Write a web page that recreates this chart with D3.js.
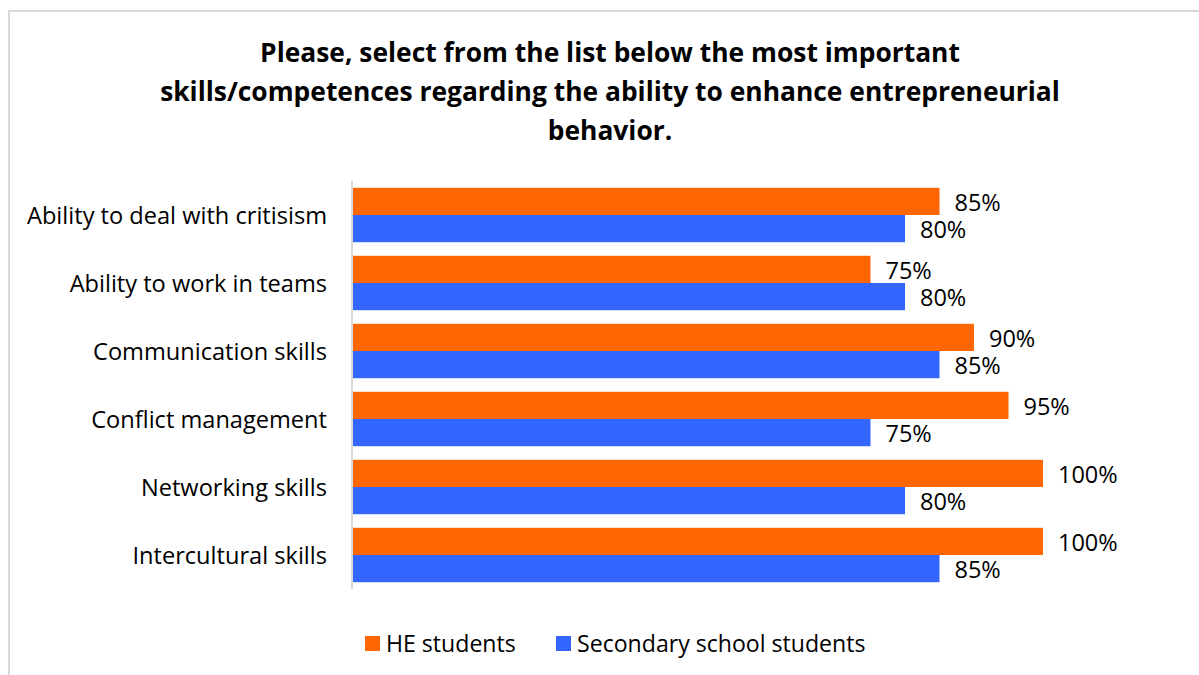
<!DOCTYPE html>
<html>
<head>
<meta charset="utf-8">
<script src="https://cdn.jsdelivr.net/npm/d3@7"></script>
<style>
  html, body { margin: 0; padding: 0; background: #ffffff; }
  svg { display: block; font-family: "Open Sans", "Noto Sans", sans-serif; }
</style>
</head>
<body>
<svg id="chart" width="1199" height="675"></svg>
<script>
// Survey answers: share of respondents picking each skill
const categories = [
  "Ability to deal with critisism",
  "Ability to work in teams",
  "Communication skills",
  "Conflict management",
  "Networking skills",
  "Intercultural skills"
];
const seriesNames = ["HE students", "Secondary school students"];
const heStudents = [85, 75, 90, 95, 100, 100];
const secondaryStudents = [80, 80, 85, 75, 80, 85];
const seriesColors = ["#ff6600", "#3366ff"];
const titleLines = [
  "Please, select from the list below the most important",
  "skills/competences regarding the ability to enhance entrepreneurial",
  "behavior."
];

const svg = d3.select("#chart");
const W = 1199, H = 675;

// outer frame (left and top edges show inside the view)
svg.append("rect")
  .attr("x", 9).attr("y", 11)
  .attr("width", W + 20).attr("height", H + 20)
  .attr("fill", "#ffffff")
  .attr("stroke", "#d9d9d9").attr("stroke-width", 2);

// title
svg.append("g").selectAll("text")
  .data(titleLines)
  .join("text")
  .attr("x", 610)
  .attr("y", (d, i) => 62 + i * 39)
  .attr("text-anchor", "middle")
  .attr("font-size", 26.4)
  .attr("font-weight", "bold")
  .attr("fill", "#000")
  .text(d => d);

const plot = { left: 353, top: 181, bottom: 589 };

const x = d3.scaleLinear().domain([0, 100]).range([plot.left, 1043]);
const y = d3.scaleBand().domain(categories).range([plot.top, plot.bottom]).paddingInner(0.2).paddingOuter(0.1);
const ySub = d3.scaleBand().domain(seriesNames).range([0, y.bandwidth()]);

const rows = categories.map((c, i) => ({
  cat: c,
  vals: [
    { s: seriesNames[0], v: heStudents[i] },
    { s: seriesNames[1], v: secondaryStudents[i] }
  ]
}));

const groups = svg.append("g").selectAll("g")
  .data(rows)
  .join("g")
  .attr("transform", d => `translate(0,${y(d.cat)})`);

groups.selectAll("rect")
  .data(d => d.vals)
  .join("rect")
  .attr("x", x(0))
  .attr("y", d => ySub(d.s))
  .attr("width", d => x(d.v) - x(0))
  .attr("height", ySub.bandwidth())
  .attr("fill", (d, i) => seriesColors[i]);

groups.selectAll("text")
  .data(d => d.vals)
  .join("text")
  .attr("x", d => x(d.v) + 15)
  .attr("y", d => ySub(d.s) + ySub.bandwidth() / 2)
  .attr("dy", "0.42em")
  .attr("font-size", 23.5)
  .attr("fill", "#000")
  .text(d => d.v + "%");

// category axis
const yAxis = svg.append("g")
  .attr("transform", `translate(${plot.left - 1},0)`)
  .call(d3.axisLeft(y).tickSize(0).tickPadding(25));
yAxis.select(".domain").attr("stroke", "#d9d9d9").attr("stroke-width", 2)
  .attr("d", `M0,${plot.top}V${plot.bottom}`);
yAxis.selectAll("text")
  .attr("font-size", 23.6)
  .attr("dy", "0.38em")
  .attr("font-family", "\"Open Sans\", \"Noto Sans\", sans-serif")
  .attr("fill", "#000");

// legend
const legendX = [365, 556];
const legend = svg.append("g").selectAll("g")
  .data(seriesNames)
  .join("g")
  .attr("transform", (d, i) => `translate(${legendX[i]},636)`);
legend.append("rect")
  .attr("width", 15).attr("height", 15)
  .attr("fill", (d, i) => seriesColors[i]);
legend.append("text")
  .attr("x", 21).attr("y", 7.5).attr("dy", "0.35em")
  .attr("font-size", 23.1)
  .attr("fill", "#000")
  .text(d => d);
</script>
</body>
</html>
